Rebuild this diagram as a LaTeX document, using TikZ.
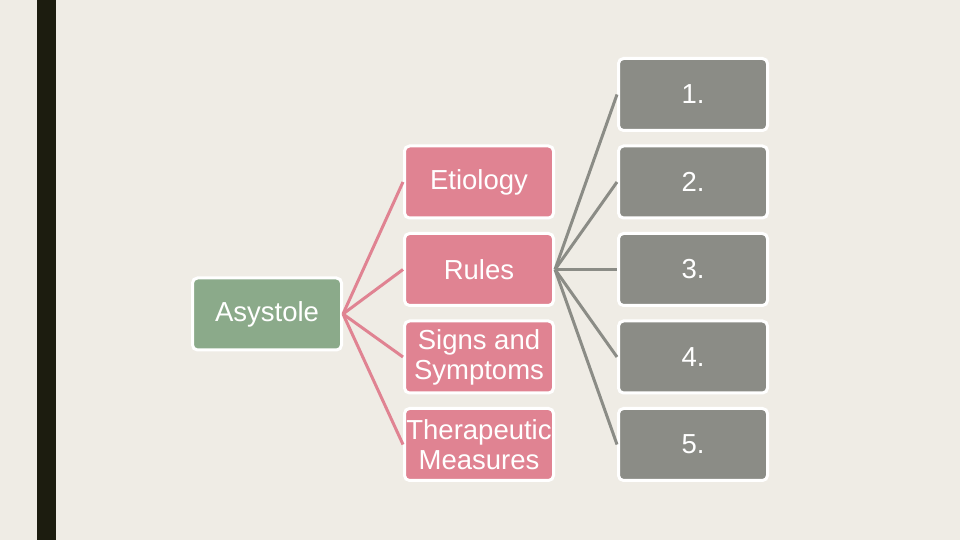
\documentclass[tikz,border=0pt]{standalone}
\usepackage{fontspec}
\setmainfont{Liberation Sans}
\definecolor{bgc}{HTML}{EFECE5}
\definecolor{barc}{HTML}{1C1C0F}
\definecolor{pinkc}{HTML}{E08392}
\definecolor{grayc}{HTML}{8B8C86}
\definecolor{greenc}{HTML}{8BAA8A}
\tikzset{
  box/.style={rectangle, rounded corners=5pt, draw=white, line width=3pt,
    minimum width=149pt, minimum height=72pt, inner sep=0pt, text=white,
    align=center, font=\fontsize{27.5}{30}\selectfont},
  rootbox/.style={box, fill=greenc},
  pinkbox/.style={box, fill=pinkc},
  graybox/.style={box, fill=grayc},
  pinkline/.style={draw=pinkc, line width=3pt},
  grayline/.style={draw=grayc, line width=3pt},
}
\begin{document}
\begin{tikzpicture}[x=1pt,y=1pt]
\useasboundingbox (0,0) rectangle (960,540);
\fill[bgc] (0,0) rectangle (960,540);
\fill[barc] (37,0) rectangle (56,540);
\node[rootbox] (root) at (267,226) {Asystole};
\node[pinkbox] (p1) at (479,358) {Etiology};
\node[pinkbox] (p2) at (479,270.5) {Rules};
\node[pinkbox] (p3) at (479,183) {Signs and\\Symptoms};
\node[pinkbox] (p4) at (479,95.5) {Therapeutic\\Measures};
\node[graybox] (g1) at (693,445.5) {1.};
\node[graybox] (g2) at (693,358) {2.};
\node[graybox] (g3) at (693,270.5) {3.};
\node[graybox] (g4) at (693,183) {4.};
\node[graybox] (g5) at (693,95.5) {5.};
\foreach \p in {p1,p2,p3,p4} \draw[pinkline] (root.east) -- (\p.west);
\foreach \g in {g1,g2,g3,g4,g5} \draw[grayline] (p2.east) -- (\g.west);
\end{tikzpicture}
\end{document}
